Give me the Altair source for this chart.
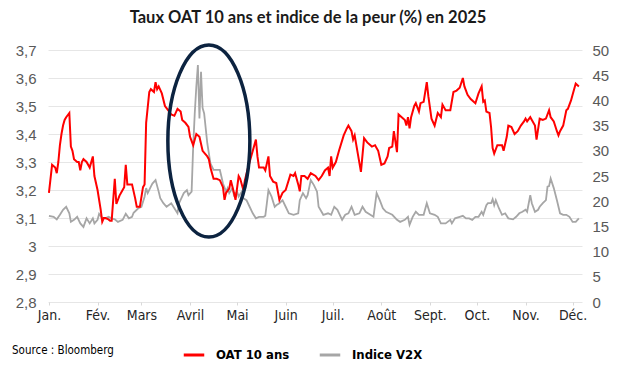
import altair as alt
import pandas as pd

month_labels = ["Jan.", "Fév.", "Mars", "Avril", "Mai", "Juin", "Juil.", "Août", "Sept.", "Oct.", "Nov.", "Déc."]
month_start_days = [0, 31, 59, 90, 120, 151, 181, 212, 243, 273, 304, 334]

# day of year (0 = 1 Jan 2025) and OAT 10 ans yield (%)
oat_days = [0,2,4,5,6,7,8,9,10,11,
            13,14,15,16,18,19,20,21,22,24,
            26,28,29,31,33,34,35,36,38,39,
            40,42,43,45,47,48,49,50,53,55,
            56,58,60,61,62,64,65,67,68,69,
            70,72,74,76,78,80,82,84,85,87,
            89,90,92,94,96,98,101,102,103,104,
            105,107,109,111,112,113,115,116,118,119,
            121,122,124,125,127,129,132,133,134,137,
            138,140,141,143,145,147,149,151,154,156,
            157,159,160,161,163,165,167,170,172,174,
            176,178,179,180,181,183,185,188,190,191,
            193,194,195,197,199,201,203,206,208,210,
            212,214,216,217,219,220,222,223,225,227,
            228,229,230,231,233,234,236,237,239,241,
            242,244,246,248,250,251,253,256,258,260,
            262,264,265,267,269,272,274,276,277,278,
            279,281,282,283,284,286,289,290,292,293,
            295,297,299,301,303,304,305,307,308,310,
            311,313,315,317,319,320,322,324,325,326,
            328,330,331,333,334,336,338]
oat_values = [3.19,3.29,3.28,3.26,3.30,3.36,3.40,3.43,3.45,3.46,
              3.475,3.355,3.34,3.31,3.30,3.30,3.27,3.30,3.31,3.30,
              3.28,3.32,3.25,3.20,3.13,3.087,3.10,3.10,3.095,3.09,
              3.09,3.24,3.15,3.18,3.20,3.21,3.29,3.22,3.22,3.17,
              3.14,3.14,3.21,3.22,3.44,3.55,3.56,3.55,3.585,3.56,
              3.57,3.545,3.50,3.485,3.47,3.465,3.49,3.48,3.45,3.44,
              3.425,3.39,3.36,3.40,3.39,3.34,3.32,3.31,3.28,3.26,
              3.24,3.24,3.235,3.21,3.165,3.19,3.205,3.235,3.19,3.165,
              3.25,3.24,3.20,3.235,3.28,3.32,3.38,3.32,3.28,3.28,
              3.27,3.32,3.25,3.23,3.225,3.165,3.19,3.20,3.255,3.25,
              3.26,3.22,3.195,3.25,3.25,3.24,3.26,3.25,3.235,3.25,
              3.27,3.28,3.25,3.32,3.28,3.30,3.34,3.395,3.42,3.43,
              3.41,3.38,3.395,3.33,3.265,3.385,3.37,3.355,3.36,3.34,
              3.29,3.295,3.32,3.35,3.355,3.41,3.335,3.47,3.46,3.45,
              3.43,3.46,3.42,3.46,3.50,3.51,3.48,3.51,3.515,3.585,
              3.535,3.455,3.43,3.475,3.46,3.505,3.485,3.485,3.55,3.555,
              3.565,3.60,3.57,3.54,3.525,3.51,3.545,3.57,3.515,3.52,
              3.48,3.475,3.425,3.35,3.33,3.36,3.36,3.34,3.39,3.43,
              3.425,3.40,3.41,3.43,3.445,3.455,3.445,3.46,3.45,3.43,
              3.38,3.455,3.45,3.455,3.485,3.46,3.445,3.41,3.395,3.41,
              3.43,3.485,3.49,3.52,3.54,3.58,3.57]

# day of year and V2X index
v2x_days = [0,3,5,7,9,11,13,14,16,18,
            20,22,24,26,28,29,31,32,34,36,
            38,40,42,44,47,49,51,53,54,57,
            59,61,62,63,65,66,68,70,71,73,
            75,78,80,82,83,86,88,89,91,92,
            93,94,95,96,97,98,99,101,103,105,
            109,110,111,113,114,115,117,118,120,121,
            123,124,126,128,130,132,134,137,138,139,
            140,142,144,145,147,149,151,153,156,159,
            160,162,164,165,167,169,171,172,175,178,
            180,182,184,187,189,191,193,195,198,200,
            202,205,207,209,211,213,215,217,219,222,
            224,227,229,230,232,234,236,239,241,243,
            246,248,250,253,256,257,259,262,264,266,
            268,270,272,274,276,277,279,280,282,283,
            284,285,287,289,291,293,296,298,300,302,
            304,305,307,308,310,312,313,315,317,318,
            319,320,322,324,326,328,330,332,334,336,
            338]
v2x_values = [17.1,16.9,16.4,17.3,18.3,18.9,17.6,15.9,16.3,16.9,
              15.6,14.9,16.6,15.6,16.6,15.6,16.3,17.5,16.6,16.6,
              16.9,16.6,16.4,15.9,16.3,17.5,16.6,16.9,17.7,18.6,
              18.9,20.9,22.6,21.6,22.9,23.5,24.2,21.9,20.6,19.6,
              18.9,19.6,18.6,17.6,19.6,21.6,22.2,21.2,21.9,30.8,
              37.4,42.7,47.0,36.4,45.7,38.5,37.4,31.5,27.5,26.2,
              26.2,24.9,23.5,21.9,22.6,21.6,22.6,21.2,21.9,20.9,
              21.9,20.6,20.2,18.9,17.6,16.6,16.9,16.9,17.1,19.6,
              22.2,20.9,18.9,19.2,19.6,20.2,18.9,17.6,17.3,17.6,
              20.2,21.6,20.6,21.2,24.2,23.2,21.9,18.9,17.3,17.6,
              17.3,18.9,18.3,16.3,17.3,17.6,18.9,17.3,17.6,18.9,
              17.9,17.3,16.9,21.6,20.2,18.6,17.9,17.6,17.3,16.3,
              15.9,16.3,16.9,15.3,16.9,17.9,17.3,17.3,19.6,17.6,
              17.3,16.9,15.6,15.6,16.3,15.6,16.6,16.9,17.1,16.6,
              16.6,16.3,16.9,16.9,17.9,17.3,19.2,19.6,19.6,20.4,
              19.2,20.2,18.6,17.3,17.6,16.6,16.4,16.9,17.6,17.9,
              18.3,17.9,21.2,19.6,17.9,18.3,18.9,19.6,20.2,22.9,
              23.0,24.5,22.6,20.2,17.6,17.3,17.3,16.9,15.9,15.9,
              16.6]

series_names = ["OAT 10 ans", "Indice V2X"]
series_colors = ["#ff0000", "#a6a6a6"]
left_ticks = [2.8, 2.9, 3.0, 3.1, 3.2, 3.3, 3.4, 3.5, 3.6, 3.7]
right_ticks = [0, 5, 10, 15, 20, 25, 30, 35, 40, 45, 50]

# highlighted zone (April turmoil): centre in data units
ellipse_center = {"day": 102, "val": 3.375}

oat_df = pd.DataFrame({"day": oat_days, "val": oat_values, "serie": series_names[0]})
v2x_df = pd.DataFrame({"day": v2x_days, "val": v2x_values, "serie": series_names[1]})
ell_df = pd.DataFrame([ellipse_center])
src_df = pd.DataFrame({"t": ["Source : Bloomberg"]})

COND = "DejaVu Sans Condensed, Liberation Sans, sans-serif"
AXF = "Liberation Sans, Arial, sans-serif"
LABEL_COLOR = "#595959"

month_expr = "[" + ",".join("'" + m + "'" for m in month_labels) + "]"
days_expr = "[" + ",".join(str(d) for d in month_start_days) + "]"

x_enc = alt.X(
    "day:Q",
    scale=alt.Scale(domain=[-0.6, 340], nice=False, zero=False),
    axis=alt.Axis(
        values=month_start_days,
        labelExpr=f"{month_expr}[indexof({days_expr}, datum.value)]",
        title=None, grid=False, domain=False, ticks=True, tickSize=3,
        tickColor="#d9d9d9", labelFont=COND, labelFontSize=14,
        labelColor="#262626", labelPadding=3, labelFlush=False,
        labelOverlap=False,
    ),
)

y_left = alt.Y(
    "val:Q",
    scale=alt.Scale(domain=[2.8, 3.7], nice=False, zero=False),
    axis=alt.Axis(
        orient="left", values=left_ticks, title=None, grid=True,
        gridColor="#e6e6e6", gridWidth=1, domain=False, ticks=False,
        labelPadding=12, labelAlign="right", labelFont=AXF,
        labelFontSize=15, labelColor=LABEL_COLOR, labelOverlap=False,
        labelExpr="abs(datum.value - 3) < 0.001 ? '3' : replace(format(datum.value, '.1f'), '.', ',')",
    ),
)

y_right = alt.Y(
    "val:Q",
    scale=alt.Scale(domain=[0, 50], nice=False),
    axis=alt.Axis(
        orient="right", values=right_ticks, title=None, grid=False,
        domain=False, ticks=False, labelPadding=10, labelAlign="left",
        labelFont=AXF, labelFontSize=15, labelColor=LABEL_COLOR,
        labelOverlap=False,
    ),
)

color_enc = alt.Color(
    "serie:N",
    scale=alt.Scale(domain=series_names, range=series_colors),
    legend=alt.Legend(
        title=None, orient="none", direction="horizontal",
        legendX=134, legendY=293, symbolType="stroke", symbolSize=420,
        symbolStrokeWidth=3, labelFont=COND, labelFontSize=13,
        labelFontWeight="bold", labelColor="#000000", labelOffset=10,
        columnPadding=23, labelLimit=200,
    ),
)

v2x_line = alt.Chart(v2x_df).mark_line(strokeWidth=1.8).encode(
    x=x_enc, y=y_right, color=color_enc,
)

oat_line = alt.Chart(oat_df).mark_line(strokeWidth=2).encode(
    x=x_enc, y=y_left, color=color_enc,
)

ratio = 41 / 96
ellipse_path = (
    f"M {-ratio:.4f} 0 A {ratio:.4f} 1 0 1 0 {ratio:.4f} 0 "
    f"A {ratio:.4f} 1 0 1 0 {-ratio:.4f} 0 Z"
)
ellipse = alt.Chart(ell_df).mark_point(
    shape=ellipse_path, size=192 * 192, filled=False,
    stroke="#0c2340", strokeWidth=3.5, opacity=1,
).encode(x=x_enc, y=y_left)

source = alt.Chart(src_df).mark_text(
    align="left", baseline="middle", font=COND, fontSize=11.5, color="#000000",
).encode(text="t:N", x=alt.value(-36), y=alt.value(301))

left_layer = alt.layer(oat_line, ellipse, source)

chart = alt.layer(v2x_line, left_layer).resolve_scale(
    y="independent"
).properties(
    width=534,
    height=252,
    padding={"left": 40, "top": 42, "right": 43, "bottom": 70},
    autosize=alt.AutoSizeParams(type="none"),
    title=alt.TitleParams(
        "Taux OAT 10 ans et indice de la peur (%) en 2025",
        font="Lato", fontSize=16.5, fontWeight="bold", color="#1a1a1a",
        anchor="middle", offset=12, dx=-7,
    ),
).configure_view(stroke=None)

chart.save("out.html", embed_options={"renderer": "svg", "actions": False})
